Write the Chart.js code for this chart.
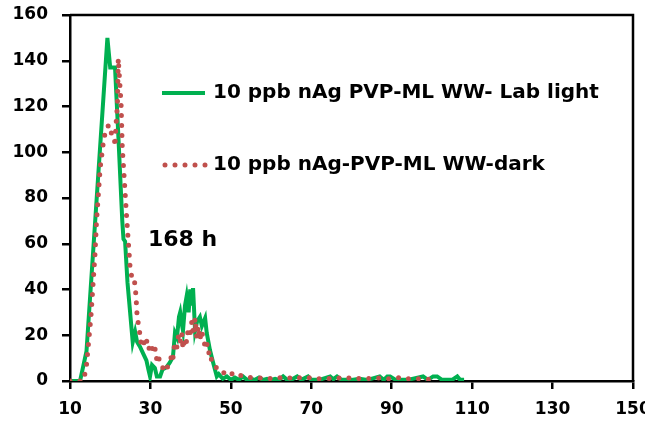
<!DOCTYPE html>
<html>
<head>
<meta charset="utf-8">
<script src="https://cdn.jsdelivr.net/npm/chart.js@4"></script>
<style>
  body { margin: 0; background: #fff; }
  canvas { display: block; }
</style>
</head>
<body>
<canvas id="sizeChart" width="645" height="427"></canvas>
<script>
// size distribution, 168 h
const lightX = [10, 12.5, 14.1, 19.3, 20, 21.2, 22, 23, 23.3, 23.7, 24.3, 25.4, 25.6, 26.2, 26.7, 27.4, 28.2, 29, 29.5, 29.9,
    30.4, 31.1, 31.6, 32.4, 33, 34, 34.8, 35.6, 36.1, 36.6, 37.1, 37.4, 37.8, 38.1, 38.6, 39, 39.5, 39.9, 40.3, 40.6,
    41.1, 41.6, 42.3, 42.8, 43.6, 44, 44.8, 45.6, 46.5, 47, 48, 49, 50, 51, 52, 53, 54, 55, 56, 57,
    58, 59, 60, 61, 62, 63, 64, 65, 66.5, 67.5, 69.2, 70, 72, 74.7, 75.5, 76.4, 77.5, 80, 82, 84,
    87, 88, 88.9, 89.6, 91, 94, 97.8, 99, 100.3, 101.3, 102.5, 105, 106.3, 107, 108];
const lightY = [0, 0, 13, 150, 137, 137, 108, 70, 62, 61, 43, 21, 17, 21.5, 17, 15, 12, 9, 5, 2,
    7, 5.7, 2, 2, 5, 6, 8, 10.5, 21, 19, 28, 30, 25, 22, 33, 37, 30, 40, 33, 40.6,
    22, 26, 28, 24, 27.5, 21, 13.5, 8, 2, 3, 1, 2, 0.5, 1.5, 0.5, 2, 0.5, 1, 0.5, 1.5,
    0.5, 1, 0.5, 1, 0.5, 2, 0.5, 0.5, 2, 0.5, 2, 0.5, 0.5, 2, 0.8, 2, 0.5, 0.5, 1, 0.5,
    2, 0.5, 2, 2, 0.5, 0.5, 2, 0.5, 2, 2, 0.5, 0.5, 2, 0.5, 0.5];

const darkX = [10, 13.2, 14, 15.2, 16.2, 16.6, 17.5, 18.3, 18.9, 19.7, 20.5, 21, 21.2, 21.4, 21.8, 22, 22.7, 23, 23.4, 24.1,
    24.5, 24.9, 25.3, 25.9, 26.4, 26.7, 27.2, 27.6, 28.1, 28.6, 29.2, 29.7, 30.3, 30.6, 31.2, 31.6, 32, 32.4, 33, 33.6,
    34.2, 34.9, 35.3, 35.6, 36, 36.5, 37, 37.4, 37.8, 38.1, 38.6, 39, 39.4, 39.9, 40.3, 40.7, 41.1, 41.5, 41.9, 42.3,
    42.7, 43.1, 43.6, 44, 44.4, 44.8, 45.2, 45.6, 46.2, 47.3, 48.5, 49.8, 51, 53, 54.8, 56, 58, 60, 62, 64,
    66, 68, 70, 72, 74, 76, 78, 80, 82, 84, 86, 88, 90, 92, 94, 96, 98, 100];
const darkY = [0, 0, 5, 28, 55, 70, 93, 104.5, 110, 112, 107, 106.7, 102.6, 111, 121, 141, 121, 102, 91, 71,
    61, 50.6, 46, 46, 37.5, 28, 23, 17, 19, 15, 18, 14, 16, 12, 14, 9, 11, 7, 6, 4,
    6, 8, 12, 10, 16, 14, 20, 17, 21, 14, 19, 17, 23, 21, 26, 20, 27.5, 19, 24, 18,
    22, 19, 15, 17, 12, 13, 9, 7, 6, 5.7, 3, 4, 2, 2.6, 1.5, 1, 1.5, 1, 1.5, 1,
    2, 1, 1.5, 1, 1, 1.5, 1, 1.5, 1, 1, 1.5, 1, 1, 1.5, 1, 1, 1, 0.5];

const xTicks = [10, 30, 50, 70, 90, 110, 130, 150];
const yTicks = [0, 20, 40, 60, 80, 100, 120, 140, 160];
const seriesNames = ['10 ppb nAg PVP-ML WW- Lab light', '10 ppb nAg-PVP-ML WW-dark'];
const timeLabel = '168 h';

const green = '#00B050';
const red = '#C0504D';
const fontFamily = '"DejaVu Sans", sans-serif';
const dotGap = 10;

function toPoints(xs, ys) {
    return xs.map(function(x, i) { return {x: x, y: ys[i]}; });
}

// frame + in-plot legend
const framePlugin = {
    id: 'frame',
    afterDatasetsDraw(chart) {
        const ctx = chart.ctx;
        const a = chart.chartArea;
        ctx.save();
        ctx.strokeStyle = '#000';
        ctx.lineWidth = 2.5;
        ctx.beginPath();
        ctx.moveTo(a.left, a.top);
        ctx.lineTo(a.right, a.top);
        ctx.lineTo(a.right, a.bottom);
        ctx.stroke();

        // legend entries
        ctx.lineWidth = 4;
        ctx.strokeStyle = green;
        ctx.beginPath();
        ctx.moveTo(162, 93);
        ctx.lineTo(205, 93);
        ctx.stroke();

        ctx.lineWidth = 5;
        ctx.strokeStyle = red;
        ctx.lineCap = 'round';
        ctx.setLineDash([0, dotGap]);
        ctx.beginPath();
        ctx.moveTo(165, 165);
        ctx.lineTo(206, 165);
        ctx.stroke();
        ctx.setLineDash([]);

        ctx.fillStyle = '#000';
        ctx.textBaseline = 'middle';
        ctx.textAlign = 'left';
        ctx.font = 'bold 20px ' + fontFamily;
        ctx.fillText(seriesNames[0], 213, 93);
        ctx.fillText(seriesNames[1], 213, 165);
        ctx.font = 'bold 22px ' + fontFamily;
        ctx.fillText(timeLabel, 148, 240);
        ctx.restore();
    }
};

const config = {
    type: 'scatter',
    data: {
        datasets: [{
            label: seriesNames[0],
            data: toPoints(lightX, lightY),
            showLine: true,
            borderColor: green,
            borderWidth: 4,
            pointRadius: 0,
            tension: 0,
            order: 2
        }, {
            label: seriesNames[1],
            data: toPoints(darkX, darkY),
            showLine: true,
            borderColor: red,
            borderWidth: 5,
            borderDash: [0, dotGap],
            borderCapStyle: 'round',
            pointRadius: 0,
            tension: 0,
            order: 1
        }]
    },
    options: {
        responsive: false,
        animation: false,
        devicePixelRatio: 1,
        layout: { padding: { top: 15, right: 12, left: 0, bottom: 0 } },
        plugins: {
            legend: { display: false },
            tooltip: { enabled: false }
        },
        scales: {
            x: {
                type: 'linear',
                min: 10,
                max: 150,
                afterBuildTicks(scale) {
                    scale.ticks = xTicks.map(function(v) { return {value: v}; });
                },
                afterFit(scale) {
                    scale.height = 46;
                    scale.paddingLeft = 0;
                    scale.paddingRight = 0;
                },
                border: { display: true, color: '#000', width: 2.5 },
                grid: { drawOnChartArea: false, drawTicks: true, tickLength: 8, color: '#000', lineWidth: 2.5 },
                ticks: {
                    color: '#000',
                    padding: 10,
                    maxRotation: 0,
                    font: { family: fontFamily, size: 17, weight: 'bold' }
                }
            },
            y: {
                min: 0,
                max: 160,
                afterBuildTicks(scale) {
                    scale.ticks = yTicks.map(function(v) { return {value: v}; });
                },
                afterFit(scale) {
                    scale.width = 70;
                    scale.paddingTop = 0;
                    scale.paddingBottom = 0;
                },
                border: { display: true, color: '#000', width: 2.5 },
                grid: { drawOnChartArea: false, drawTicks: true, tickLength: 8, color: '#000', lineWidth: 2.5 },
                ticks: {
                    color: '#000',
                    padding: 14,
                    font: { family: fontFamily, size: 17, weight: 'bold' }
                }
            }
        }
    },
    plugins: [framePlugin]
};

const mySizeChart = new Chart(document.getElementById('sizeChart'), config);
</script>
</body>
</html>
